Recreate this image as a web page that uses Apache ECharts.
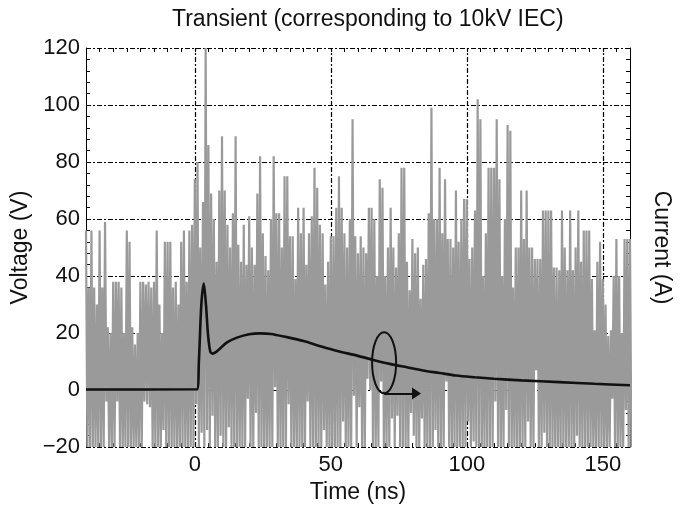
<!DOCTYPE html>
<html>
<head>
<meta charset="utf-8">
<script src="https://cdn.jsdelivr.net/npm/echarts@6/dist/echarts.min.js"></script>
<style>
html, body { margin: 0; padding: 0; background: #fff; }
#main { width: 681px; height: 509px; }
</style>
</head>
<body>
<div id="main"></div>
<script>
var font = "'Liberation Sans', Arial, Helvetica, sans-serif";

// voltage trace, read per ns from t = -40 to 160: top and bottom of each swing
var tStart = -40;
var voltHigh = [
	56,36,56,36,30,56,36,59,22,20, 38,38,38,36,20,56,52,22,16,20,
	38,38,37,38,36,38,56,30,20,52, 52,52,36,38,30,52,56,38,56,58,
	74,80,50,66,120,86,69,60,45,70, 89,70,58,50,62,89,51,45,58,44,
	61,50,44,69,82,55,47,42,60,82, 62,62,50,75,75,54,54,39,64,55,
	64,44,55,61,78,71,58,55,37,45, 54,54,64,75,64,55,50,60,95,54,
	48,54,50,48,64,64,60,40,74,71, 40,50,64,50,43,55,78,78,45,35,
	53,48,50,32,44,46,62,99,60,60, 78,55,74,53,53,50,70,52,60,67,
	67,46,50,63,102,95,40,55,78,78, 78,95,74,40,60,93,91,36,50,50,
	70,53,70,50,50,46,46,46,63,63, 63,63,43,43,42,63,50,42,63,42,
	50,63,45,56,56,56,39,21,45,52, 39,30,19,21,40,53,40,20,53,53,
	53
];
var voltLow = [
	-20,-20,-20,-20,-20,-20,-20,-4,-20,-20, -20,-4,-20,-20,-20,-20,-20,-20,-20,-20,
	-20,-4,-5,-6,-20,-20,-20,-20,-14,-20, -20,-20,-20,-20,-20,-20,-20,-20,-20,-20,
	-5,-20,-15,-20,-14,-20,-9,-20,-20,-16, -20,-20,-13,-20,-20,-20,-20,-20,-20,-3,
	-20,-20,-8,-20,-20,-20,-20,-20,-20,1, -20,-20,-20,-20,-5,-20,-20,-20,-20,-20,
	-20,-4,-20,-20,-20,-20,-20,-14,-20,-20, -20,-20,-20,-20,-11,-20,-20,-20,-2,-20,
	-6,-20,-20,4,0,-20,-20,-20,3,-20, -20,-20,-10,-20,-9,-20,-20,-20,-20,-8,
	-16,-20,-20,-10,-20,-20,-20,-20,-14,-20, -20,-20,3,-20,-20,-20,-20,-20,-20,-20,
	-11,-20,-18,-20,-20,-20,-20,-20,-20,-20, -4,-20,-20,-20,-7,-20,-20,-20,-20,-20,
	-20,-20,-11,-20,-20,7,-20,-20,-15,-20, -20,-20,-20,-20,-20,-20,-20,-20,-20,-20,
	-16,-20,-20,-20,-20,-20,-20,-20,-20,-20, -20,-20,-20,-3,-20,-20,-20,-20,-7,-20,
	-20
];

// current pulse
var currentT = [-40, 0.8, 1.5, 2.4, 3.3, 4.1, 4.9, 5.7, 6.5, 8, 9.5, 12, 15.5, 20, 24, 28, 33.7, 40, 45.8, 52, 60, 66, 71.7, 78, 83.8, 90, 96, 103, 110, 120, 134, 147, 160];
var currentA = [0.2, 0.3, 10, 30, 37.4, 30, 19, 13.5, 12.8, 13.5, 14.8, 16.8, 18.4, 19.6, 19.9, 19.7, 18.6, 17.2, 15.5, 13.8, 12, 10.5, 9.2, 8, 6.9, 6, 5.1, 4.5, 4, 3.4, 2.8, 2.2, 1.7];

var xLabels = [0, 50, 100, 150];
var xGrid = [0, 50, 100, 150];
var markT = [69.6, 9.6];
var arrowFrom = [69.6, -1.2];
var arrowTo = [81.5, -1.2];

var voltData = [];
for (var i = 0; i < voltHigh.length; i++) {
	voltData.push([tStart + i, voltHigh[i]]);
	voltData.push([tStart + i + 0.5, voltLow[i]]);
}
var currentData = [];
for (var j = 0; j < currentT.length; j++) {
	currentData.push([currentT[j], currentA[j]]);
}

var dashDot = [5, 2, 2, 2];
var tickStyle = { color: '#000', width: 1 };
var nameStyle = { fontFamily: font, fontSize: 23, color: '#111' };

var chart = echarts.init(document.getElementById('main'));

chart.setOption({
	animation: false,
	backgroundColor: '#fff',
	title: {
		text: 'Transient (corresponding to 10kV IEC)',
		left: 172,
		top: 8,
		padding: 0,
		textStyle: { fontFamily: font, fontSize: 23, fontWeight: 'normal', color: '#111' }
	},
	grid: { left: 86, right: 45, top: 48, bottom: 57, containLabel: false },
	xAxis: [{
		type: 'value', min: -40, max: 160, interval: 10, position: 'bottom',
		axisLine: { show: false, onZero: false },
		axisTick: { inside: true, length: 4, lineStyle: tickStyle },
		minorTick: { show: true, splitNumber: 2, length: 4, lineStyle: tickStyle },
		axisLabel: {
			margin: 7, fontFamily: font, fontSize: 22, color: '#111',
			formatter: function (v) { return xLabels.indexOf(v) >= 0 ? String(v) : ''; }
		},
		splitLine: { show: false },
		name: 'Time (ns)', nameLocation: 'middle', nameGap: 33,
		nameTextStyle: nameStyle
	}, {
		type: 'value', min: -40, max: 160, interval: 10, position: 'top',
		axisLine: { show: false, onZero: false },
		axisTick: { inside: true, length: 4, lineStyle: tickStyle },
		minorTick: { show: true, splitNumber: 2, length: 4, lineStyle: tickStyle },
		axisLabel: { show: false },
		splitLine: { show: false }
	}],
	yAxis: [{
		type: 'value', min: -20, max: 120, interval: 20, position: 'left',
		axisLine: { show: true, onZero: false, lineStyle: { color: '#000', width: 1 } },
		axisTick: { inside: true, length: 4, lineStyle: tickStyle },
		minorTick: { show: true, splitNumber: 5, length: 4, lineStyle: tickStyle },
		axisLabel: {
			margin: 6, fontFamily: font, fontSize: 22, color: '#111',
			formatter: function (v) { return String(v).replace('-', '\u2212'); }
		},
		splitLine: { show: true, lineStyle: { color: '#000', width: 1.2, type: dashDot } },
		name: 'Voltage (V)', nameLocation: 'middle', nameGap: 52,
		nameTextStyle: nameStyle
	}, {
		type: 'value', min: -20, max: 120, interval: 20, position: 'right',
		axisLine: { show: true, onZero: false, lineStyle: { color: '#000', width: 1 } },
		axisTick: { inside: true, length: 4, lineStyle: tickStyle },
		minorTick: { show: true, splitNumber: 5, length: 4, lineStyle: tickStyle },
		axisLabel: { show: false },
		splitLine: { show: false },
		name: 'Current (A)', nameLocation: 'middle', nameGap: 20, nameRotate: -90,
		nameTextStyle: nameStyle
	}],
	series: [{
		// vertical grid lines, behind the traces
		type: 'line', data: [], z: 1, silent: true,
		markLine: {
			silent: true, symbol: 'none', z: 1, animation: false,
			label: { show: false },
			lineStyle: { color: '#000', width: 1.2, type: dashDot },
			data: xGrid.map(function (v) { return { xAxis: v }; })
		}
	}, {
		name: 'Voltage', type: 'line', data: voltData, z: 3,
		showSymbol: false, symbol: 'none', silent: true, sampling: false,
		lineStyle: { color: '#9a9a9a', width: 2.2 }
	}, {
		name: 'Current', type: 'line', data: currentData, yAxisIndex: 1, z: 4,
		showSymbol: false, symbol: 'none', silent: true, smooth: 0.3,
		lineStyle: { color: '#111', width: 2.6 },
		markLine: {
			silent: true, symbol: ['none', 'triangle'], symbolSize: [12, 9], symbolRotate: -90, z: 5,
			label: { show: false },
			itemStyle: { color: '#111' },
			lineStyle: { color: '#111', width: 2, type: 'solid' },
			data: [[{ coord: arrowFrom }, { coord: arrowTo }]]
		}
	}]
});

var c = chart.convertToPixel({ xAxisIndex: 0, yAxisIndex: 0 }, markT);
chart.setOption({
	graphic: [{
		type: 'ellipse', z: 10, silent: true,
		shape: { cx: c[0], cy: c[1], rx: 12, ry: 30.5 },
		style: { fill: 'none', stroke: '#111', lineWidth: 2 }
	}]
});
</script>
</body>
</html>
